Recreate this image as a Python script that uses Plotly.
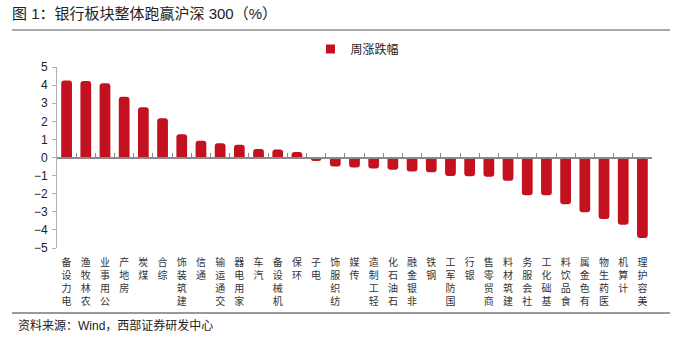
import plotly.graph_objects as go

categories = ["电力设备", "农林牧渔", "公用事业", "房地产", "煤炭", "综合", "建筑装饰", "通信",
              "交通运输", "家用电器", "汽车", "机械设备", "环保", "电子", "纺织服饰", "传媒",
              "轻工制造", "石油石化", "非银金融", "钢铁", "国防军工", "银行", "商贸零售",
              "建筑材料", "社会服务", "基础化工", "食品饮料", "有色金属", "医药生物", "计算机", "美容护理"]
values = [4.25, 4.23, 4.10, 3.35, 2.78, 2.17, 1.28, 0.93, 0.79, 0.70, 0.47, 0.44, 0.31, -0.20, -0.50,
          -0.55, -0.61, -0.68, -0.78, -0.82, -1.02, -1.03, -1.07, -1.28, -2.08, -2.08, -2.58, -3.02,
          -3.40, -3.72, -4.45]
series_name = "周涨跌幅"
yticks = [5, 4, 3, 2, 1, 0, -1, -2, -3, -4, -5]

RED = "#C4111F"
CJK = "Liberation Sans, Noto Sans CJK SC"

# labels are written bottom-to-top (rotated 270°, upright glyphs), top-aligned to the axis
xlabels = ["<br>".join(reversed(list(c))) for c in categories]
idx = list(range(len(categories)))

fig = go.Figure()
fig.add_trace(go.Bar(x=idx, y=values, name=series_name, marker=dict(color=RED, line=dict(width=0)),
                     width=0.56, showlegend=False))
# legend entry (small square like the reference)
fig.add_trace(go.Scatter(x=[None], y=[None], mode="markers", name=series_name,
                         marker=dict(symbol="square", size=9, color=RED), showlegend=True))
# invisible trace for the zero axis
fig.add_trace(go.Scatter(x=[None], y=[None], xaxis="x2", yaxis="y", showlegend=False, hoverinfo="skip"))

fig.update_layout(
    width=682, height=345,
    margin=dict(l=57, r=30, t=67, b=97),
    paper_bgcolor="white", plot_bgcolor="white",
    font=dict(family=CJK, color="#222"),
    barcornerradius=3,
    title=dict(text="图 1：银行板块整体跑赢沪深 300（%）", x=12/682, xanchor="left",
               y=1-14/345, yanchor="middle", xref="container", yref="container",
               font=dict(size=15, color="#222", family=CJK)),
    legend=dict(orientation="h", x=0.505, xanchor="center", y=1.1, yanchor="middle",
                font=dict(size=12, color="#222", family=CJK), itemwidth=30,
                bgcolor="rgba(0,0,0,0)"),
    xaxis=dict(tickmode="array", tickvals=idx, ticktext=xlabels, range=[-0.5, len(categories)-0.5],
               showline=False, ticks="", showgrid=False, zeroline=False, tickangle=0,
               ticklabelstandoff=7,
               tickfont=dict(size=10, color="#333", family="Noto Sans CJK SC")),
    xaxis2=dict(overlaying="x", anchor="free", position=0.5, range=[-0.5, len(categories)-0.5],
                tickmode="array", tickvals=[i+0.5 for i in idx], showticklabels=False,
                showline=True, linecolor="#8a8a8a", linewidth=1.5, ticks="inside", ticklen=4,
                tickcolor="#8a8a8a", showgrid=False, zeroline=False, side="bottom", layer="above traces"),
    yaxis=dict(range=[-5, 5], tickmode="array", tickvals=yticks, showline=True, linecolor="#b0b0b0",
               linewidth=1, ticks="outside", ticklen=4, tickcolor="#b0b0b0", showgrid=False,
               zeroline=False, ticklabelstandoff=2,
               tickfont=dict(size=12, color="#222", family="Liberation Sans")),
)

# header and footer rules
fig.add_shape(type="line", xref="paper", yref="paper", x0=(12-57)/595, x1=(670-57)/595,
              y0=(248-30)/181, y1=(248-30)/181, line=dict(color="#555", width=1))
fig.add_shape(type="line", xref="paper", yref="paper", x0=(12-57)/595, x1=(670-57)/595,
              y0=(248-313)/181, y1=(248-313)/181, line=dict(color="#333", width=1))
fig.add_annotation(text="资料来源：Wind，西部证券研发中心", xref="paper", yref="paper",
                   x=(16-57)/595, y=(248-325)/181, xanchor="left", yanchor="middle",
                   showarrow=False, font=dict(size=12, color="#222", family=CJK))

fig.write_html("out.html")
